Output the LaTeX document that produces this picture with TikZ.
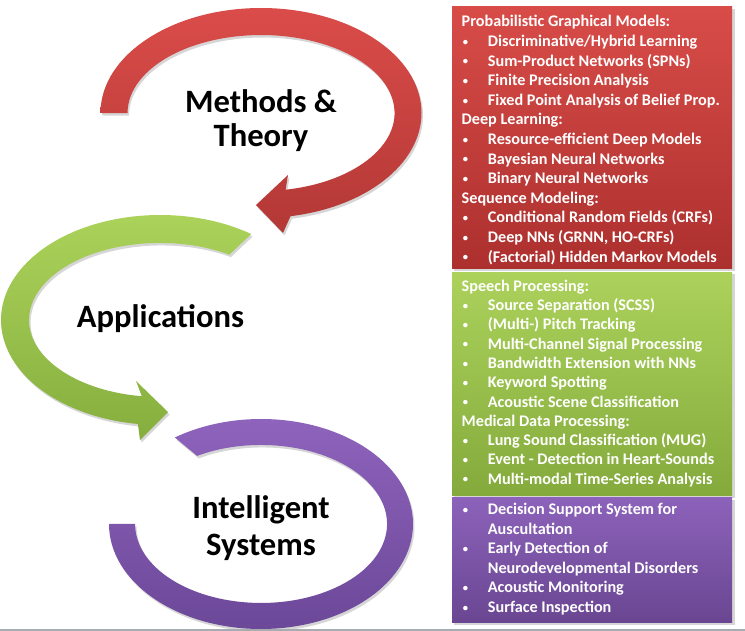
\documentclass[tikz,border=0pt]{standalone}
\usepackage{fontspec}
\setmainfont{Carlito}
\definecolor{redtop}{HTML}{D84C48}
\definecolor{redbot}{HTML}{AC302E}
\definecolor{grntop}{HTML}{ACD25C}
\definecolor{grnbot}{HTML}{84AA3C}
\definecolor{purtop}{HTML}{8C62BA}
\definecolor{purbot}{HTML}{6A4692}
\definecolor{redarrtop}{HTML}{DA4C49}
\definecolor{redarrbot}{HTML}{B33836}
\definecolor{grnarrtop}{HTML}{ADD55C}
\definecolor{grnarrbot}{HTML}{86AE3E}
\definecolor{purarrtop}{HTML}{8E63BC}
\definecolor{purarrbot}{HTML}{6C4899}
\definecolor{footgray}{HTML}{A7ACB2}
\newcommand\smallbullet{\raisebox{1.3pt}{\fontsize{10.5}{10.5}\selectfont\textbullet}}
\newcommand\bxhead[1]{\leavevmode#1\par}
\newcommand\bxitem[1]{\leavevmode\hbox to 26.2pt{\hskip1.2pt\smallbullet\hfil}#1\par}
\newcommand\bxcont[1]{\leavevmode\hskip26.2pt#1\par}
\newcommand\bxlist[2]{\vtop{\hsize=300pt\parindent=0pt\parskip=0pt\baselineskip=#1\relax #2}}
\newcommand\twolines[3]{\vtop{\baselineskip=#1\relax\halign{\hfil##\hfil\cr#2\cr#3\cr}}}
\def\redband{(100.5,113) arc[start angle=180,end angle=439.4,x radius=160.5,y radius=105] -- (283,233) -- (256,205) -- (288,175) -- (285.6,189.7) arc[start angle=439.4,end angle=180,x radius=133.5,y radius=78] -- cycle}
\def\greenband{(251.2,234) arc[start angle=-55,end angle=-262,x radius=159,y radius=105] -- (140,440) -- (168,412) -- (136,381) -- (141.8,396.2) arc[start angle=-262,end angle=-58,x radius=131,y radius=77] -- cycle}
\def\purpleband{(109,524) arc[start angle=180,end angle=-124.5,x radius=152,y radius=105] -- (197.1,455.9) arc[start angle=-120.5,end angle=180,x radius=126,y radius=79] -- cycle}
\begin{document}
\begin{tikzpicture}[x=1pt,y=-1pt,
  softshadow/.style={fill=black,opacity=0.16},
  boxtext/.style={anchor=base west,inner sep=0pt,text=white,font=\bfseries\fontsize{16.2}{19.6}\selectfont},
  biglabel/.style={anchor=base,inner sep=0pt,font=\bfseries\fontsize{32.6}{34}\selectfont}]
\useasboundingbox (0,0) rectangle (745,631);
\fill[white] (0,0) rectangle (745,631);
% arrows
\fill[softshadow,shift={(1.5,2.5)}] \purpleband;
\shade[top color=purarrtop,bottom color=purarrbot] \purpleband;
\fill[softshadow,shift={(1.5,2.5)}] \greenband;
\shade[top color=grnarrtop,bottom color=grnarrbot] \greenband;
\fill[softshadow,shift={(1.5,2.5)}] \redband;
\shade[top color=redarrtop,bottom color=redarrbot] \redband;
% labels
\node[biglabel] (methods) at (261,112.7) {\twolines{34pt}{Methods \&}{Theory}};
\node[biglabel] (apps) at (160.5,328) {Applications};
\node[biglabel] (intel) at (261,518.3) {\twolines{36.7pt}{Intelligent}{Systems}};
% boxes
\fill[softshadow] (454,9) rectangle (734.5,271);
\shade[top color=redtop,bottom color=redbot] (452,7) rectangle (732,269);
\fill[softshadow] (454,274.5) rectangle (734.5,497.5);
\shade[top color=grntop,bottom color=grnbot] (452,272.5) rectangle (732,495.5);
\fill[softshadow] (454,499.5) rectangle (734.5,624.5);
\shade[top color=purtop,bottom color=purbot] (452,497.5) rectangle (732,622);
\node[boxtext] (methodslist) at (461.5,27) {\bxlist{19.6pt}{%
\bxhead{Probabilistic Graphical Models:}
\bxitem{Discriminative/Hybrid Learning}
\bxitem{Sum-Product Networks (SPNs)}
\bxitem{Finite Precision Analysis}
\bxitem{Fixed Point Analysis of Belief Prop.}
\bxhead{Deep Learning:}
\bxitem{Resource-efficient Deep Models}
\bxitem{Bayesian Neural Networks}
\bxitem{Binary Neural Networks}
\bxhead{Sequence Modeling:}
\bxitem{Conditional Random Fields (CRFs)}
\bxitem{Deep NNs (GRNN, HO-CRFs)}
\bxitem{(Factorial) Hidden Markov Models}}};
\node[boxtext] (appslist) at (461.5,291.3) {\bxlist{19.3pt}{%
\bxhead{Speech Processing:}
\bxitem{Source Separation (SCSS)}
\bxitem{(Multi-) Pitch Tracking}
\bxitem{Multi-Channel Signal Processing}
\bxitem{Bandwidth Extension with NNs}
\bxitem{Keyword Spotting}
\bxitem{Acoustic Scene Classification}
\bxhead{Medical Data Processing:}
\bxitem{Lung Sound Classification (MUG)}
\bxitem{Event - Detection in Heart-Sounds}
\bxitem{Multi-modal Time-Series Analysis}}};
\node[boxtext] (intellist) at (461.5,514.5) {\bxlist{19.6pt}{%
\bxitem{Decision Support System for}
\bxcont{Auscultation}
\bxitem{Early Detection of}
\bxcont{Neurodevelopmental Disorders}
\bxitem{Acoustic Monitoring}
\bxitem{Surface Inspection}}};
% footer line
\fill[footgray] (0,628.6) rectangle (745,631);
\end{tikzpicture}
\end{document}
